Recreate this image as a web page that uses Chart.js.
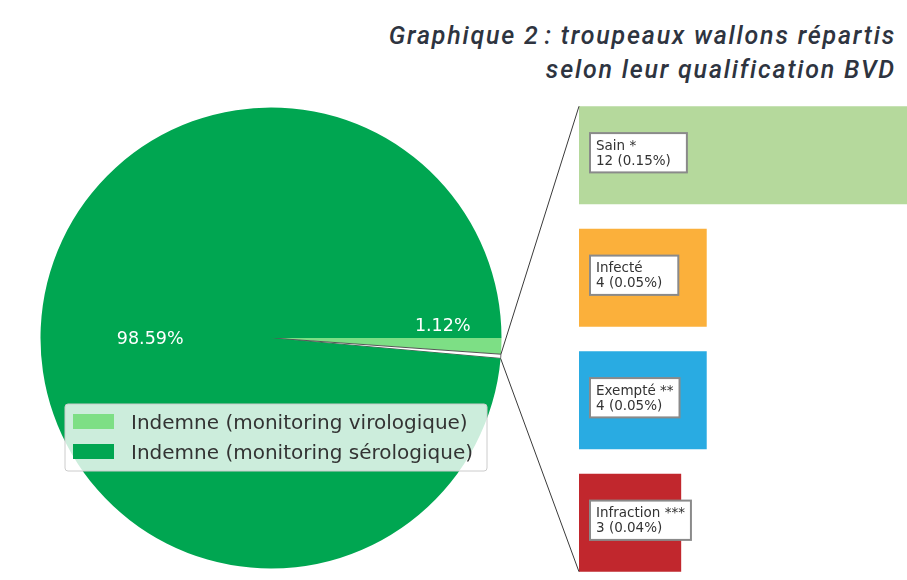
<!DOCTYPE html>
<html lang="fr">
<head>
<meta charset="utf-8">
<script src="https://cdn.jsdelivr.net/npm/chart.js@4"></script>
<style>
  html, body { margin: 0; padding: 0; background: #fff; overflow: hidden; }
  body { width: 907px; height: 580px; position: relative; }
  #titre {
    position: absolute; right: 11px; top: 19px;
    font-family: Roboto, sans-serif; font-style: italic; font-weight: 500;
    font-size: 25px; line-height: 34px; color: #2e3440; text-align: right;
    letter-spacing: 1.8px;
  }
  #pie { position: absolute; left: 40px; top: 107px; }
  #bars { position: absolute; left: 0; top: 0; }
</style>
</head>
<body>
<div id="titre">Graphique 2&#8239;: troupeaux wallons répartis<br>selon leur qualification BVD</div>
<canvas id="pie" width="462" height="462"></canvas>
<canvas id="bars" width="907" height="584"></canvas>
<script>
// Camembert : part des troupeaux (%)
const pieLabels = ['Indemne (monitoring virologique)', 'Autres qualifications', 'Indemne (monitoring sérologique)'];
const pieValues = [1.12, 0.29, 98.59];
const pieColors = ['#7ddf85', '#ffffff', '#00a651'];
const piePctText = ['1.12%', '', '98.59%'];

// Détail des autres qualifications
const barLabels = ['Sain *', 'Infecté', 'Exempté **', 'Infraction ***'];
const barCounts = [12, 4, 4, 3];
const barPercents = [0.15, 0.05, 0.05, 0.04];
const barColors = ['#b5d99c', '#fbb03b', '#29abe2', '#c1272d'];

const FONT = '"DejaVu Sans", sans-serif';

const pieDecor = {
  id: 'pieDecor',
  afterDraw(chart) {
    const ctx = chart.ctx;
    const arc = chart.getDatasetMeta(0).data[0];
    const cx = arc.x, cy = arc.y, r = arc.outerRadius;
    ctx.save();
    // pourcentages
    ctx.fillStyle = '#ffffff';
    ctx.font = '17.5px ' + FONT;
    ctx.textAlign = 'center';
    ctx.textBaseline = 'middle';
    ctx.fillText(piePctText[0], cx + 0.745 * r, cy - 0.052 * r);
    ctx.fillText(piePctText[2], cx - 0.524 * r, cy + 0.008 * r);

    // légende
    const lx = 25, ly = 297, lw = 422, lh = 67;
    ctx.beginPath();
    ctx.roundRect(lx, ly, lw, lh, 3);
    ctx.fillStyle = 'rgba(255,255,255,0.8)';
    ctx.fill();
    ctx.strokeStyle = '#cccccc';
    ctx.lineWidth = 1;
    ctx.stroke();
    const rows = [0, 2];
    ctx.textAlign = 'left';
    ctx.textBaseline = 'alphabetic';
    ctx.font = '20px ' + FONT;
    rows.forEach((i, k) => {
      const y = ly + 17.5 + k * 30;
      ctx.fillStyle = pieColors[i];
      ctx.fillRect(lx + 8, y - 7.5, 41, 15);
      ctx.fillStyle = '#333333';
      ctx.fillText(pieLabels[i], lx + 66, y + 7.5);
    });
    ctx.restore();
  }
};

const pieChart = new Chart(document.getElementById('pie'), {
  type: 'pie',
  data: {
    labels: pieLabels,
    datasets: [{
      data: pieValues,
      backgroundColor: pieColors,
      borderColor: ['#ffffff', '#555555', '#ffffff'],
      borderWidth: [0, 1, 0],
    }],
  },
  options: {
    responsive: false,
    animation: false,
    rotation: 90,
    layout: { padding: 0 },
    plugins: { legend: { display: false }, tooltip: { enabled: false } },
  },
  plugins: [pieDecor],
});

const barDecor = {
  id: 'barDecor',
  afterDraw(chart) {
    const ctx = chart.ctx;
    const bars = chart.getDatasetMeta(0).data;
    ctx.save();
    // lignes de liaison depuis le camembert
    const pieCanvas = pieChart.canvas;
    const ox = pieCanvas.offsetLeft, oy = pieCanvas.offsetTop;
    const small = pieChart.getDatasetMeta(0).data[1];
    const p = (a) => [ox + small.x + small.outerRadius * Math.cos(a), oy + small.y + small.outerRadius * Math.sin(a)];
    const first = bars[0], last = bars[bars.length - 1];
    const a1 = p(small.startAngle), a2 = p(small.endAngle);
    ctx.strokeStyle = '#3a3a3a';
    ctx.lineWidth = 1;
    ctx.beginPath();
    ctx.moveTo(a1[0], a1[1]);
    ctx.lineTo(first.base, first.y - first.height / 2);
    ctx.moveTo(a2[0], a2[1]);
    ctx.lineTo(last.base, last.y + last.height / 2);
    ctx.stroke();

    // étiquettes
    ctx.font = '13.5px ' + FONT;
    ctx.textAlign = 'left';
    ctx.textBaseline = 'alphabetic';
    bars.forEach((b, i) => {
      const l1 = barLabels[i];
      const l2 = barCounts[i] + ' (' + barPercents[i].toFixed(2) + '%)';
      const w = Math.max(ctx.measureText(l1).width + 12, ctx.measureText(l2).width + 22);
      const h = 39.3;
      const x = b.base + 11, y = b.y - h / 2 - 2.5;
      ctx.fillStyle = '#ffffff';
      ctx.fillRect(x, y, w, h);
      ctx.strokeStyle = '#8a8a8a';
      ctx.lineWidth = 2;
      ctx.strokeRect(x, y, w, h);
      ctx.fillStyle = '#333333';
      ctx.fillText(l1, x + 6, y + 16.5);
      ctx.fillText(l2, x + 6, y + 31.5);
    });
    ctx.restore();
  }
};

new Chart(document.getElementById('bars'), {
  type: 'bar',
  data: {
    labels: barLabels,
    datasets: [{
      data: barPercents,
      backgroundColor: barColors,
      borderWidth: 0,
      barPercentage: 0.8,
      categoryPercentage: 1,
    }],
  },
  options: {
    indexAxis: 'y',
    responsive: false,
    animation: false,
    layout: { padding: { left: 579, top: 94, right: 0, bottom: 0 } },
    scales: {
      x: { display: false, min: 0, max: 0.1284 },
      y: { display: false },
    },
    plugins: { legend: { display: false }, tooltip: { enabled: false } },
  },
  plugins: [barDecor],
});
</script>
</body>
</html>
